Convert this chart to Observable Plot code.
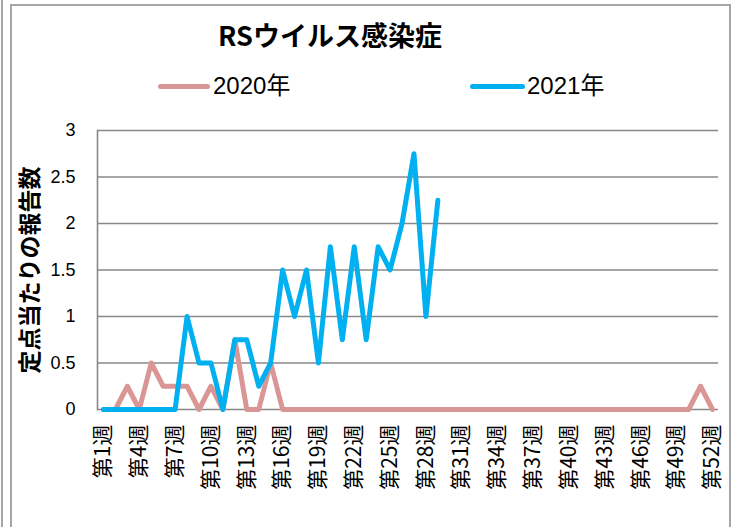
<!DOCTYPE html>
<html><head><meta charset="utf-8">
<script src="https://cdn.jsdelivr.net/npm/d3@7"></script>
<script src="https://cdn.jsdelivr.net/npm/@observablehq/plot@0.6"></script>
<style>
body{margin:0;background:#fff;}
#wrap{position:relative;width:736px;height:527px;overflow:hidden;background:#fff;font-family:"Liberation Sans","Noto Sans CJK JP",sans-serif;}
.vline{position:absolute;top:0;width:2px;height:527px;background:#a6a6a6;}
#frame{position:absolute;left:10px;top:4px;width:717px;height:600px;border:2px solid #a6a6a6;border-bottom:none;}
#title{position:absolute;left:0;width:660px;top:19px;text-align:center;font-family:"Noto Sans CJK JP",sans-serif;font-weight:bold;font-size:27px;line-height:1.2;color:#000;}
.sw{position:absolute;height:5px;border-radius:3px;top:84px;}
.lt{position:absolute;top:72px;font-size:24px;line-height:1.2;color:#000;}
#chart{position:absolute;left:0;top:0;}
</style></head><body>
<div id="wrap">
  <div class="vline" style="left:1px"></div>
  <div id="frame"></div>
  <div id="chart"></div>
  <div id="title">RSウイルス感染症</div>
  <div class="sw" style="left:158px;width:52px;background:#D99694"></div>
  <div class="lt" id="l1" style="left:213px"></div>
  <div class="sw" style="left:470px;width:55px;background:#00B0F0"></div>
  <div class="lt" id="l2" style="left:527px"></div>
</div>
<script>
const weeks = ["第1週","第2週","第3週","第4週","第5週","第6週","第7週","第8週","第9週","第10週",
"第11週","第12週","第13週","第14週","第15週","第16週","第17週","第18週","第19週","第20週",
"第21週","第22週","第23週","第24週","第25週","第26週","第27週","第28週","第29週","第30週",
"第31週","第32週","第33週","第34週","第35週","第36週","第37週","第38週","第39週","第40週",
"第41週","第42週","第43週","第44週","第45週","第46週","第47週","第48週","第49週","第50週",
"第51週","第52週"];
const tickWeeks = ["第1週","第4週","第7週","第10週","第13週","第16週","第19週","第22週","第25週",
"第28週","第31週","第34週","第37週","第40週","第43週","第46週","第49週","第52週"];
const seriesNames = ["2020年","2021年"];
const values2020 = [0,0,0.25,0,0.5,0.25,0.25,0.25,0,0.25,
0,0.75,0,0,0.5,0,0,0,0,0,
0,0,0,0,0,0,0,0,0,0,
0,0,0,0,0,0,0,0,0,0,
0,0,0,0,0,0,0,0,0,0,
0.25,0];
const values2021 = [0,0,0,0,0,0,0,1,0.5,0.5,
0,0.75,0.75,0.25,0.5,1.5,1,1.5,0.5,1.75,
0.75,1.75,0.75,1.75,1.5,2,2.75,1,2.25];
const yTicks = [0,0.5,1,1.5,2,2.5,3];
const yTickLabels = ["0","0.5","1","1.5","2","2.5","3"];
const yTitle = "定点当たりの報告数";
const colors = ["#D99694","#00B0F0"];

document.getElementById("l1").textContent = seriesNames[0];
document.getElementById("l2").textContent = seriesNames[1];

const d2020 = values2020.map((v,i)=>({week:weeks[i], value:v}));
const d2021 = values2021.map((v,i)=>({week:weeks[i], value:v}));

const chart = Plot.plot({
  width:736, height:527,
  marginTop:130, marginBottom:118, marginLeft:97, marginRight:18,
  style:{background:"transparent", fontFamily:"'Liberation Sans','Noto Sans CJK JP',sans-serif", color:"#000", overflow:"visible"},
  x:{type:"point", domain:weeks, padding:0.5, label:null},
  y:{domain:[0,3], label:null},
  marks:[
    Plot.gridY(yTicks, {stroke:"#888", strokeOpacity:1, strokeWidth:1.6}),
    Plot.frame({anchor:"left", stroke:"#888", strokeWidth:1.6}),
    Plot.axisY({ticks:yTicks, tickSize:0, tickPadding:22, label:null, tickFormat:(d)=>yTickLabels[yTicks.indexOf(d)], fontSize:18, fill:"#000"}),
    Plot.axisX({ticks:tickWeeks, tickSize:0, tickPadding:15, label:null, tickRotate:-90, fontSize:21, fontFamily:"'Noto Sans CJK JP',sans-serif", fill:"#000"}),
    Plot.text([yTitle], {frameAnchor:"left", dx:-67, rotate:-90, textAnchor:"middle", fontSize:23, fontWeight:"bold", fontFamily:"'Noto Sans CJK JP',sans-serif", fill:"#000"}),
    Plot.line(d2020, {x:"week", y:"value", stroke:colors[0], strokeWidth:5, strokeLinejoin:"round", strokeLinecap:"round"}),
    Plot.line(d2021, {x:"week", y:"value", stroke:colors[1], strokeWidth:5, strokeLinejoin:"round", strokeLinecap:"round"})
  ]
});
document.getElementById("chart").appendChild(chart);
</script>
</body></html>
